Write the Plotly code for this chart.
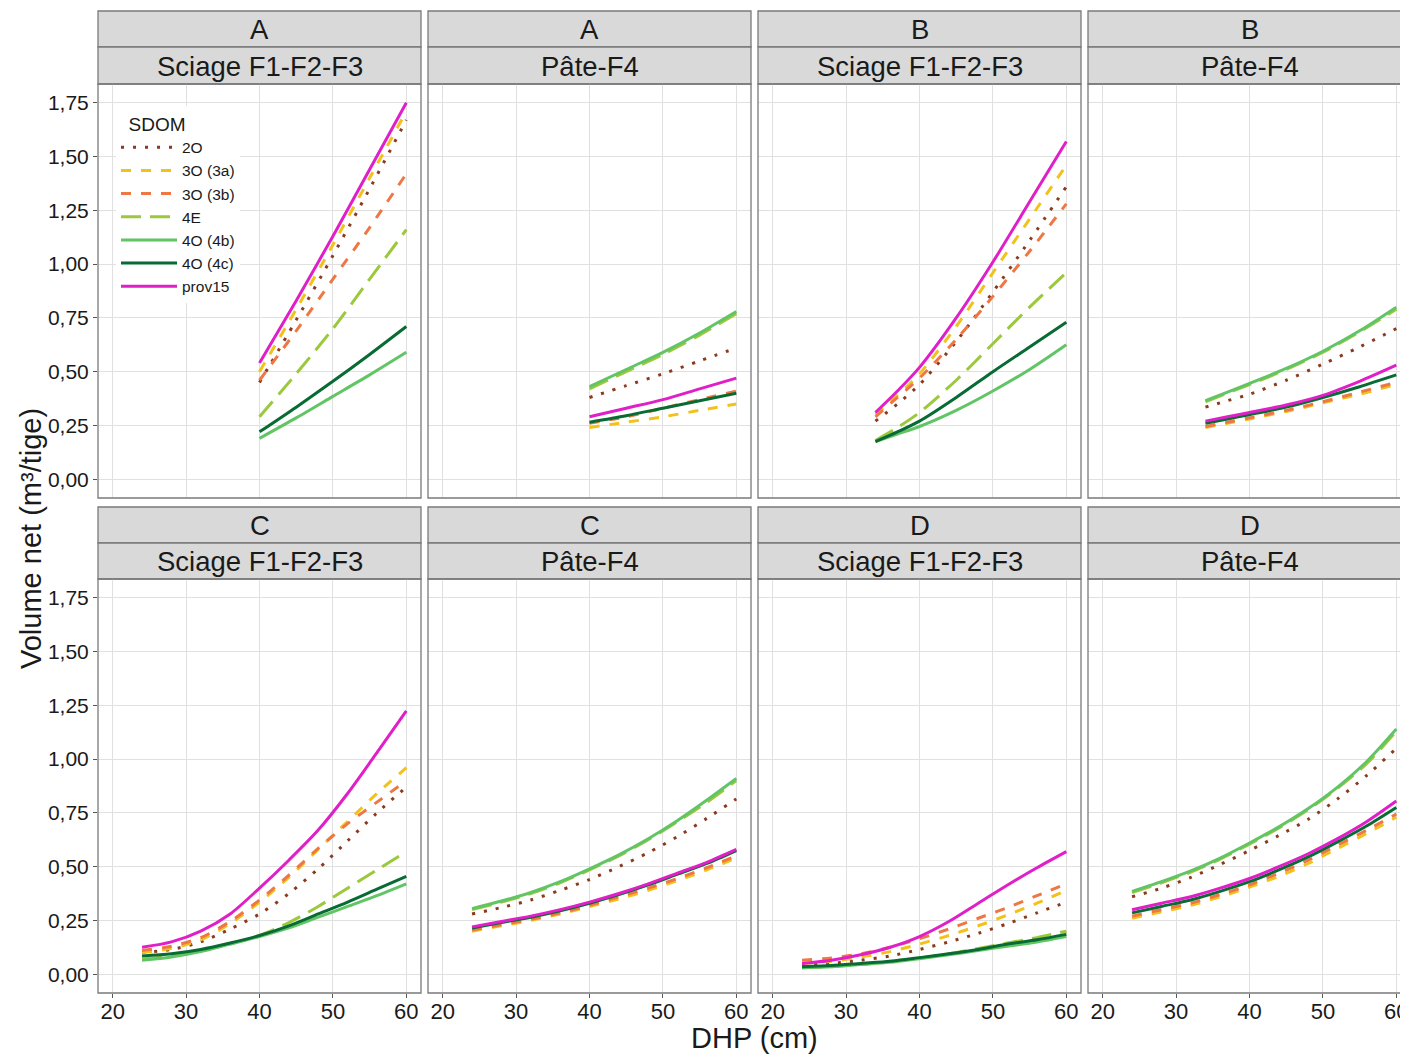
import plotly.graph_objects as go

# ---------------- data ----------------
SDOM = ["2O", "3O (3a)", "3O (3b)", "4E", "4O (4b)", "4O (4c)", "prov15"]
COLORS = ["#8B3A1E", "#F2C21B", "#EE7744", "#9CC83C", "#62C565", "#076B33", "#E01FC8"]
DASHES = ["3px,9px", "10px,10px", "10px,10px", "20px,9px", "solid", "solid", "solid"]

ZONES = ["A", "A", "B", "B", "C", "C", "D", "D"]
PRODUITS = ["Sciage F1-F2-F3", "Pâte-F4"] * 4

DHP_A = [40, 45, 50, 55, 60]
DHP_B = [34, 37, 40, 45, 50, 55, 60]
DHP_CD = [24, 28, 32, 36, 40, 44, 48, 52, 56, 60]

# values ordered as SDOM
A_SCIAGE = [
    [0.45, 0.74, 1.04, 1.35, 1.67],
    [0.50, 0.79, 1.09, 1.40, 1.71],
    [0.46, 0.69, 0.93, 1.17, 1.42],
    [0.29, 0.49, 0.70, 0.93, 1.16],
    [0.19, 0.285, 0.385, 0.485, 0.59],
    [0.22, 0.335, 0.455, 0.58, 0.71],
    [0.54, 0.83, 1.13, 1.44, 1.75],
]
A_PATE = [
    [0.38, 0.435, 0.49, 0.55, 0.61],
    [0.24, 0.265, 0.29, 0.32, 0.35],
    [0.26, 0.29, 0.33, 0.37, 0.41],
    [0.42, 0.50, 0.58, 0.67, 0.77],
    [0.43, 0.51, 0.59, 0.68, 0.78],
    [0.265, 0.295, 0.33, 0.365, 0.40],
    [0.29, 0.33, 0.37, 0.42, 0.47],
]
B_SCIAGE = [
    [0.27, 0.35, 0.44, 0.64, 0.87, 1.11, 1.36],
    [0.30, 0.39, 0.49, 0.71, 0.96, 1.21, 1.46],
    [0.29, 0.38, 0.47, 0.65, 0.85, 1.06, 1.28],
    [0.18, 0.24, 0.31, 0.46, 0.63, 0.80, 0.96],
    [0.175, 0.21, 0.245, 0.32, 0.41, 0.51, 0.625],
    [0.175, 0.22, 0.27, 0.38, 0.50, 0.615, 0.73],
    [0.31, 0.41, 0.52, 0.75, 1.01, 1.29, 1.57],
]
B_PATE = [
    [0.335, 0.365, 0.395, 0.46, 0.535, 0.615, 0.70],
    [0.24, 0.26, 0.28, 0.315, 0.355, 0.395, 0.44],
    [0.245, 0.265, 0.285, 0.32, 0.36, 0.405, 0.45],
    [0.36, 0.40, 0.44, 0.51, 0.59, 0.685, 0.79],
    [0.365, 0.405, 0.445, 0.515, 0.595, 0.69, 0.80],
    [0.26, 0.28, 0.30, 0.335, 0.38, 0.43, 0.485],
    [0.27, 0.29, 0.31, 0.345, 0.39, 0.455, 0.53],
]
C_SCIAGE = [
    [0.10, 0.115, 0.15, 0.21, 0.28, 0.375, 0.49, 0.62, 0.75, 0.87],
    [0.10, 0.12, 0.16, 0.235, 0.335, 0.45, 0.58, 0.71, 0.84, 0.96],
    [0.11, 0.13, 0.17, 0.245, 0.345, 0.46, 0.585, 0.70, 0.80, 0.90],
    [0.07, 0.085, 0.11, 0.14, 0.18, 0.24, 0.315, 0.40, 0.485, 0.57],
    [0.065, 0.08, 0.105, 0.14, 0.175, 0.215, 0.265, 0.315, 0.365, 0.42],
    [0.085, 0.095, 0.115, 0.145, 0.18, 0.225, 0.28, 0.335, 0.395, 0.455],
    [0.125, 0.15, 0.20, 0.28, 0.40, 0.53, 0.67, 0.84, 1.03, 1.224],
]
C_PATE = [
    [0.28, 0.31, 0.345, 0.39, 0.44, 0.50, 0.565, 0.64, 0.725, 0.815],
    [0.20, 0.225, 0.25, 0.28, 0.315, 0.35, 0.39, 0.435, 0.485, 0.54],
    [0.205, 0.23, 0.255, 0.285, 0.32, 0.36, 0.40, 0.445, 0.495, 0.55],
    [0.30, 0.335, 0.375, 0.425, 0.485, 0.55, 0.625, 0.71, 0.80, 0.90],
    [0.305, 0.34, 0.38, 0.43, 0.49, 0.555, 0.63, 0.715, 0.81, 0.91],
    [0.215, 0.24, 0.265, 0.295, 0.33, 0.37, 0.415, 0.465, 0.515, 0.575],
    [0.22, 0.245, 0.27, 0.30, 0.335, 0.375, 0.42, 0.47, 0.52, 0.58],
]
D_SCIAGE = [
    [0.04, 0.05, 0.065, 0.085, 0.115, 0.15, 0.19, 0.235, 0.285, 0.335],
    [0.05, 0.06, 0.08, 0.105, 0.14, 0.18, 0.225, 0.275, 0.33, 0.39],
    [0.065, 0.075, 0.095, 0.125, 0.165, 0.21, 0.26, 0.31, 0.365, 0.42],
    [0.03, 0.035, 0.045, 0.06, 0.075, 0.095, 0.12, 0.145, 0.17, 0.20],
    [0.03, 0.035, 0.045, 0.055, 0.072, 0.09, 0.11, 0.13, 0.15, 0.175],
    [0.035, 0.04, 0.05, 0.06, 0.077, 0.095, 0.115, 0.14, 0.16, 0.185],
    [0.05, 0.065, 0.09, 0.125, 0.175, 0.245, 0.33, 0.415, 0.495, 0.57],
]
D_PATE = [
    [0.36, 0.40, 0.45, 0.51, 0.575, 0.645, 0.72, 0.815, 0.925, 1.05],
    [0.26, 0.29, 0.32, 0.36, 0.405, 0.455, 0.515, 0.585, 0.655, 0.73],
    [0.27, 0.30, 0.33, 0.37, 0.415, 0.47, 0.53, 0.60, 0.67, 0.745],
    [0.38, 0.425, 0.475, 0.535, 0.605, 0.68, 0.765, 0.865, 0.98, 1.13],
    [0.385, 0.43, 0.48, 0.54, 0.61, 0.685, 0.77, 0.87, 0.99, 1.14],
    [0.285, 0.315, 0.345, 0.385, 0.43, 0.485, 0.545, 0.615, 0.69, 0.775],
    [0.30, 0.33, 0.36, 0.40, 0.445, 0.50, 0.56, 0.63, 0.71, 0.805],
]

PANEL_X = [DHP_A, DHP_A, DHP_B, DHP_B, DHP_CD, DHP_CD, DHP_CD, DHP_CD]
PANEL_Y = [A_SCIAGE, A_PATE, B_SCIAGE, B_PATE, C_SCIAGE, C_PATE, D_SCIAGE, D_PATE]

Y_TICKS = [0, 0.25, 0.5, 0.75, 1.0, 1.25, 1.5, 1.75]
Y_TICKTEXT = ["0,00", "0,25", "0,50", "0,75", "1,00", "1,25", "1,50", "1,75"]
X_TICKS = [20, 30, 40, 50, 60]

# ---------------- layout geometry (reference pixels, page offset 8px) ----------------
W, H = 1408, 1054
OFF = 8  # default body margin of the html page
FONT = "Liberation Sans, Arial, sans-serif"
COLS_PX = [(98, 421), (428, 751), (758, 1081), (1088, 1411)]
ROWS_PX = [(84, 498), (579, 993)]
STRIPS_PX = [((11, 47), (47, 84)), ((507, 543), (543, 579))]
XR = [18, 62]
YR = [-0.0875, 1.8375]


def fx(px):
    return (px - OFF) / W


def fy(px):
    return 1 - (px - OFF) / H


fig = go.Figure()
layout = dict(
    width=W, height=H,
    margin=dict(l=0, r=0, t=0, b=0),
    paper_bgcolor="white", plot_bgcolor="white",
    font=dict(family=FONT, color="#1a1a1a"),
    showlegend=True,
)
shapes = []
annotations = []
GRID = "#e0e0e0"
BORDER = "#7a7a7a"

for p in range(8):
    r, c = divmod(p, 4)
    sfx = "" if p == 0 else str(p + 1)
    xl, xr_px = COLS_PX[c]
    yt, yb = ROWS_PX[r]
    xr_dom = min(xr_px, W + OFF)
    px_per_unit = (xr_px - xl) / (XR[1] - XR[0])
    xrange = [XR[0], XR[0] + (xr_dom - xl) / px_per_unit]
    layout["xaxis" + sfx] = dict(
        domain=[fx(xl), fx(xr_dom)], range=xrange, anchor="y" + sfx,
        tickvals=X_TICKS, showgrid=True, gridcolor=GRID, gridwidth=1,
        zeroline=False, showline=False,
        showticklabels=(r == 1), ticks="outside" if r == 1 else "",
        ticklen=4, tickcolor="#555", ticklabelstandoff=-5,
        tickfont=dict(size=22, color="#1a1a1a", family=FONT),
        fixedrange=True,
    )
    layout["yaxis" + sfx] = dict(
        domain=[fy(yb), fy(yt)], range=YR, anchor="x" + sfx,
        tickvals=Y_TICKS, ticktext=Y_TICKTEXT, showgrid=True, gridcolor=GRID,
        gridwidth=1, zeroline=False, showline=False,
        showticklabels=(c == 0), ticks="outside" if c == 0 else "",
        ticklen=4, tickcolor="#555", tickfont=dict(size=21, color="#1a1a1a", family=FONT),
        fixedrange=True,
    )
    # panel border
    shapes.append(dict(type="rect", xref="paper", yref="paper",
                       x0=fx(xl), x1=fx(xr_px), y0=fy(yb), y1=fy(yt),
                       line=dict(color=BORDER, width=1.3), fillcolor="rgba(0,0,0,0)",
                       layer="above"))
    # strips
    (s1t, s1b), (s2t, s2b) = STRIPS_PX[r]
    for (st, sb), txt in (((s1t, s1b), ZONES[p]), ((s2t, s2b), PRODUITS[p])):
        shapes.append(dict(type="rect", xref="paper", yref="paper",
                           x0=fx(xl), x1=fx(xr_px), y0=fy(sb), y1=fy(st),
                           line=dict(color=BORDER, width=1.3), fillcolor="#d9d9d9",
                           layer="below"))
        annotations.append(dict(text=txt, xref="paper", yref="paper",
                                x=fx((xl + xr_px) / 2), y=fy((st + sb) / 2 + 0.5),
                                xanchor="center", yanchor="middle", showarrow=False,
                                font=dict(size=27.5, color="#1a1a1a", family=FONT)))
    # traces
    for i, name in enumerate(SDOM):
        fig.add_trace(go.Scatter(
            x=PANEL_X[p], y=PANEL_Y[p][i], mode="lines", name=name,
            legendgroup=name, showlegend=(p == 0),
            line=dict(color=COLORS[i], width=3, dash=DASHES[i], shape="spline",
                      smoothing=0.8),
            xaxis="x" + sfx, yaxis="y" + sfx, hoverinfo="skip",
        ))

annotations.append(dict(text="DHP (cm)", xref="paper", yref="paper",
                        x=fx(754), y=fy(1038), xanchor="center", yanchor="middle",
                        showarrow=False, font=dict(size=29, color="#1a1a1a", family=FONT)))
annotations.append(dict(text="Volume net (m³/tige)", xref="paper", yref="paper",
                        x=fx(31), y=fy(539), xanchor="center", yanchor="middle",
                        textangle=-90, showarrow=False,
                        font=dict(size=29, color="#1a1a1a", family=FONT)))

layout["shapes"] = shapes
layout["annotations"] = annotations
layout["legend"] = dict(
    x=fx(116), y=fy(106), xanchor="left", yanchor="top",
    bgcolor="white", borderwidth=0,
    title=dict(text="\u00a0\u00a0SDOM", font=dict(size=19, color="#1a1a1a", family=FONT)),
    font=dict(size=15.5, color="#1a1a1a", family=FONT),
    tracegroupgap=0, itemwidth=56,
)
fig.update_layout(**layout)
fig.write_html("out.html")
